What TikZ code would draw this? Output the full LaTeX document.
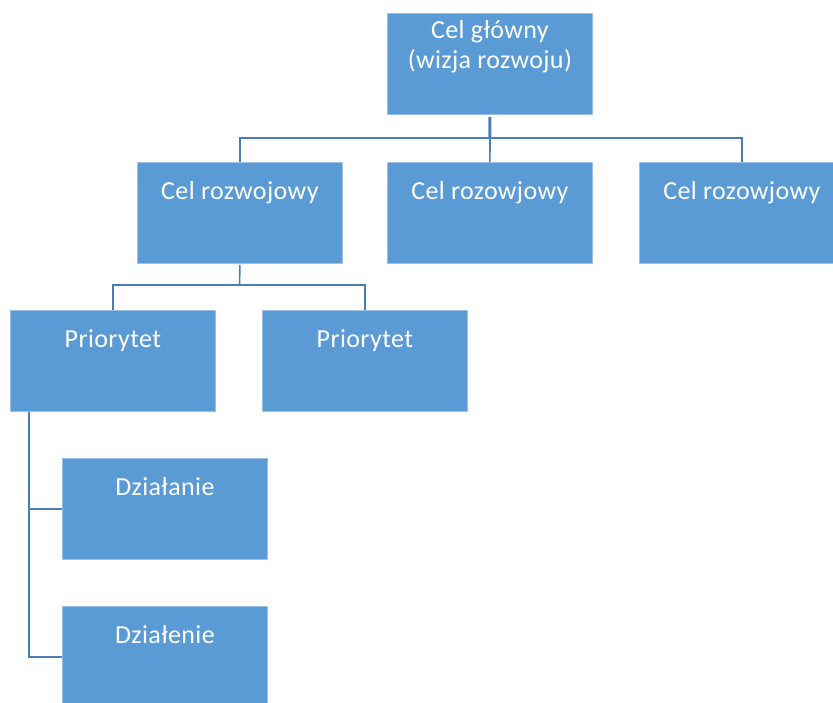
\documentclass[tikz,border=0pt]{standalone}
\usepackage{fontspec}
\setmainfont{Carlito}[LetterSpace=1.5]
\definecolor{boxblue}{HTML}{5B9BD5}
\definecolor{boxedge}{HTML}{9CC0E6}
\definecolor{linblue}{HTML}{4A7EBB}
\tikzset{
  box/.style={rectangle, fill=boxblue, draw=boxedge, line width=0.8pt, minimum width=205pt, minimum height=101pt, anchor=north west, inner sep=0pt},
  lbl/.style={anchor=base, text=white, font=\fontsize{26}{30}\selectfont, align=center, inner sep=0pt},
  conn/.style={draw=linblue, line width=1.6pt},
  trunk/.style={draw=linblue, line width=3pt}
}
\begin{document}
\begin{tikzpicture}[x=1pt,y=-1pt]
\clip (0,0) rectangle (833,702);
\fill[white] (0,0) rectangle (833,702);
% boxes
\node[box] (top) at (387,13) {};
\node[box] (c1) at (137,162) {};
\node[box] (c2) at (387,162) {};
\node[box] (c3) at (639,162) {};
\node[box] (p1) at (10,310) {};
\node[box] (p2) at (262,310) {};
\node[box] (d1) at (62,458) {};
\node[box] (d2) at (62,606) {};
% labels
\node[lbl] (ttop) at ([yshift=-55pt]top.north) {Cel główny\\(wizja rozwoju)};
\node[lbl] (tc1) at ([yshift=-37.5pt]c1.north) {Cel rozwojowy};
\node[lbl] (tc2) at ([yshift=-37.5pt]c2.north) {Cel rozowjowy};
\node[lbl] (tc3) at ([yshift=-37.5pt]c3.north) {Cel rozowjowy};
\node[lbl] (tp1) at ([yshift=-37.5pt]p1.north) {Priorytet};
\node[lbl] (tp2) at ([yshift=-37.5pt]p2.north) {Priorytet};
\node[lbl] (td1) at ([yshift=-37.5pt]d1.north) {Działanie};
\node[lbl] (td2) at ([yshift=-37.5pt]d2.north) {Działenie};
% connectors
\coordinate (h1) at (490,138);
\coordinate (h2) at (239.5,285);
\coordinate (v1) at (29,412);
\draw[trunk] ([yshift=-2pt]top.south) -- (h1);
\draw[conn] (h1) -| (c1.north);
\draw[conn] (h1) -| (c3.north);
\draw[conn] (h1) -- (c2.north);
\draw[conn] ([yshift=-1pt]c1.south) -- (h2);
\draw[conn] (h2) -| (p1.north);
\draw[conn] (h2) -| (p2.north);
\draw[conn] (v1) |- (d1.west);
\draw[conn] (v1) |- (d2.west);
\end{tikzpicture}
\end{document}
